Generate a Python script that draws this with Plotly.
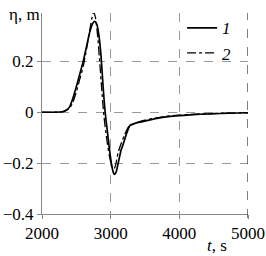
import plotly.graph_objects as go

t1 = [2000, 2300, 2350, 2400, 2450, 2500, 2550, 2600, 2650, 2700, 2740, 2770, 2800, 2830, 2860, 2890, 2920, 2950, 2980, 3010, 3040, 3060, 3080, 3110, 3150, 3185, 3230, 3282, 3330, 3400, 3526, 3650, 3867, 4013, 4300, 4600, 5000]
eta1 = [0, 0.002, 0.008, 0.02, 0.055, 0.1, 0.15, 0.2, 0.26, 0.32, 0.35, 0.357, 0.345, 0.3, 0.22, 0.1, 0.0, -0.07, -0.14, -0.2, -0.238, -0.244, -0.235, -0.2, -0.15, -0.124, -0.085, -0.052, -0.046, -0.04, -0.033, -0.025, -0.016, -0.013, -0.008, -0.005, -0.002]

t2 = [2000, 2300, 2400, 2450, 2500, 2550, 2600, 2650, 2700, 2740, 2755, 2780, 2810, 2840, 2870, 2900, 2940, 2980, 3020, 3045, 3070, 3110, 3160, 3200, 3260, 3300, 3400, 3500, 3600, 3800, 4000, 4300, 4600, 5000]
eta2 = [0, 0.002, 0.015, 0.04, 0.08, 0.13, 0.18, 0.25, 0.33, 0.385, 0.392, 0.37, 0.3, 0.2, 0.09, -0.01, -0.1, -0.17, -0.215, -0.225, -0.21, -0.157, -0.118, -0.09, -0.058, -0.05, -0.039, -0.031, -0.025, -0.016, -0.011, -0.007, -0.004, -0.002]

x_ticks = [2000, 3000, 4000, 5000]
x_labels = ["2000", "3000", "4000", "5000"]
y_ticks = [-0.4, -0.2, 0, 0.2]
y_labels = ["\u22120.4", "\u22120.2", "0", "0.2"]
names = ["<i>1</i>", "<i>2</i>"]

font_family = "Liberation Serif"
fig = go.Figure()
fig.add_trace(go.Scatter(x=t1, y=eta1, mode="lines", name=names[0],
                         line=dict(color="black", width=1.7, shape="spline", smoothing=0.6)))
fig.add_trace(go.Scatter(x=t2, y=eta2, mode="lines", name=names[1],
                         line=dict(color="black", width=1.3, dash="dashdot", shape="spline", smoothing=0.6)))

fig.update_layout(
    width=266, height=256,
    margin=dict(l=42, r=18, t=13, b=42, autoexpand=False),
    paper_bgcolor="white", plot_bgcolor="white",
    font=dict(family=font_family, size=17, color="black"),
    showlegend=True,
    legend=dict(x=0.68, y=0.96, yref="container", xanchor="left", yanchor="top",
                bgcolor="rgba(0,0,0,0)", font=dict(size=17, family=font_family),
                tracegroupgap=0, itemwidth=30),
    xaxis=dict(range=[2000, 5000], tickvals=x_ticks, ticktext=x_labels,
               showgrid=True, gridcolor="#999999", griddash="dash", gridwidth=1,
               showline=True, linecolor="#888888", linewidth=1,
               ticks="outside", ticklen=4, tickcolor="#888888",
               zeroline=False, tickfont=dict(size=17, family=font_family), automargin=False),
    yaxis=dict(range=[-0.4, 0.39], tickvals=y_ticks, ticktext=y_labels,
               showgrid=True, gridcolor="#999999", griddash="dash", gridwidth=1,
               showline=True, linecolor="#888888", linewidth=1,
               ticks="outside", ticklen=4, tickcolor="#888888",
               zeroline=False, tickfont=dict(size=17, family=font_family), automargin=False),
    shapes=[dict(type="line", xref="x", yref="paper", x0=5000, x1=5000, y0=-0.02, y1=1,
                 line=dict(color="black", width=1, dash="dash"))],
    annotations=[
        dict(text="\u03b7, m", xref="paper", yref="paper", x=-0.17, y=0.995,
             xanchor="left", yanchor="middle", showarrow=False, font=dict(size=17, family=font_family)),
        dict(text="<i>t</i>, s", xref="paper", yref="paper", x=0.91, y=-0.155,
             xanchor="right", yanchor="middle", showarrow=False, font=dict(size=17, family=font_family)),
    ],
)
html = fig.to_html(config={"displayModeBar": False})
html = html.replace("<body>", "<body style=\"margin:0\">", 1)
fig.write_html("out.html", config={"displayModeBar": False})
with open("out.html", "w") as fh:
    fh.write(html)
